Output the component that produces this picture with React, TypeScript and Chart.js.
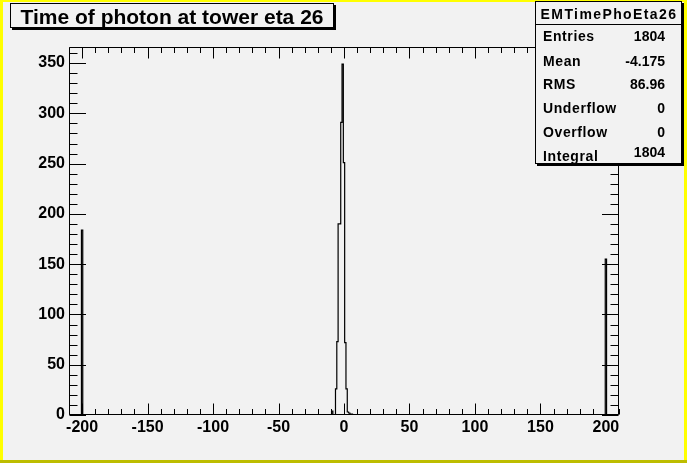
import React, { useEffect, useRef } from 'react';
import { Chart, registerables } from 'chart.js';

Chart.register(...registerables);

// ---- data ----
const chartTitle = 'Time of photon at tower eta 26';
const statsName = 'EMTimePhoEta26';
const statLabels = ['Entries', 'Mean', 'RMS', 'Underflow', 'Overflow', 'Integral'];
const statValues = ['1804', '-4.175', '86.96', '0', '0', '1804'];

const xAxisMin = -210;
const xAxisMax = 210;
const yAxisMax = 366;
const binWidth = 1;
// non-empty bins (bin centre, count)
const binCenters = [-200, -9, -6, -5, -4, -3, -2, -1, 0, 1, 2, 3, 4, 5, 6, 200];
const binCounts = [184, 4, 26, 73, 190, 190, 291, 349, 251, 72, 26, 3, 2, 1, 1, 155];

const xTickLabels = [-200, -150, -100, -50, 0, 50, 100, 150, 200];
const yTickLabels = [0, 50, 100, 150, 200, 250, 300, 350];
const xMinorStep = 10;
const yMinorStep = 10;

const FONT = '"Liberation Sans", Arial, Helvetica, sans-serif';

function buildOutline() {
  const pts: { x: number; y: number }[] = [];
  const first = Math.round(xAxisMin / binWidth);
  const last = Math.round(xAxisMax / binWidth);
  for (let k = first; k <= last; k++) {
    const c = k * binWidth;
    const idx = binCenters.indexOf(c);
    const v = idx >= 0 ? binCounts[idx] : 0;
    pts.push({ x: c - binWidth / 2, y: v });
  }
  pts.push({ x: last * binWidth + binWidth / 2, y: 0 });
  return pts;
}

function drawText(ctx: CanvasRenderingContext2D, text: string, x: number, y: number, align: CanvasTextAlign, font: string, spacing = 0) {
  ctx.font = font;
  ctx.textAlign = align;
  ctx.textBaseline = 'alphabetic';
  const anyCtx = ctx as any;
  if ('letterSpacing' in anyCtx) anyCtx.letterSpacing = spacing + 'px';
  ctx.fillText(text, x, y);
  if ('letterSpacing' in anyCtx) anyCtx.letterSpacing = '0px';
}

const rootStyle = {
  id: 'rootStyle',
  beforeDraw(chart: any) {
    const { ctx, width, height } = chart;
    ctx.save();
    ctx.fillStyle = '#f2f2f2';
    ctx.fillRect(0, 0, width, height);
    // bevelled yellow border
    ctx.fillStyle = '#ffff00';
    ctx.fillRect(0, 0, 3, height);
    ctx.fillRect(0, 0, width, 2);
    ctx.fillRect(width - 3, 0, 3, height);
    ctx.fillStyle = '#bdbd00';
    ctx.fillRect(0, height - 3, width, 3);
    ctx.restore();
  },
  afterDraw(chart: any) {
    const { ctx, chartArea } = chart;
    const { left, right, top, bottom } = chartArea;
    const xs = chart.scales.x;
    const ys = chart.scales.y;
    ctx.save();
    ctx.strokeStyle = '#000';
    ctx.lineWidth = 1;
    const L = Math.round(left) + 0.5, R = Math.round(right) - 0.5;
    const T = Math.round(top) + 0.5, B = Math.round(bottom) - 0.5;
    ctx.beginPath();
    ctx.rect(L, T, R - L, B - T);
    // x ticks (bottom & top)
    const xMajor = 11, xMinor = 5.5;
    for (let v = xAxisMin; v <= xAxisMax + 1e-9; v += xMinorStep) {
      const px = Math.round(xs.getPixelForValue(v)) + 0.5;
      const len = v % 50 === 0 ? xMajor : xMinor;
      ctx.moveTo(px, B); ctx.lineTo(px, B - len);
      ctx.moveTo(px, T); ctx.lineTo(px, T + len);
    }
    const yMajor = 16.5, yMinor = 8;
    for (let v = 0; v <= yAxisMax; v += yMinorStep) {
      const py = Math.round(ys.getPixelForValue(v)) + 0.5;
      const len = v % 50 === 0 ? yMajor : yMinor;
      ctx.moveTo(L, py); ctx.lineTo(L + len, py);
      ctx.moveTo(R, py); ctx.lineTo(R - len, py);
    }
    ctx.stroke();

    ctx.fillStyle = '#000';
    // title box with shadow
    const tb = { x: 10, y: 3, w: 324, h: 25 };
    ctx.fillRect(tb.x + 2, tb.y + 2, tb.w, tb.h);
    ctx.fillStyle = '#f2f2f2';
    ctx.fillRect(tb.x, tb.y, tb.w, tb.h);
    ctx.strokeRect(tb.x + 0.5, tb.y + 0.5, tb.w - 1, tb.h - 1);
    ctx.fillStyle = '#000';
    drawText(ctx, chartTitle, tb.x + tb.w / 2, 23.5, 'center', `bold 21px ${FONT}`);

    // stats box with shadow
    const sb = { x: 535, y: 1, w: 147, h: 163 };
    ctx.fillRect(sb.x + 2, sb.y + 2, sb.w, sb.h);
    ctx.fillStyle = '#f2f2f2';
    ctx.fillRect(sb.x, sb.y, sb.w, sb.h);
    ctx.strokeRect(sb.x + 0.5, sb.y + 0.5, sb.w - 1, sb.h - 1);
    ctx.beginPath();
    ctx.moveTo(sb.x, 24.5); ctx.lineTo(sb.x + sb.w, 24.5);
    ctx.stroke();
    ctx.fillStyle = '#000';
    drawText(ctx, statsName, sb.x + sb.w / 2 + 0.5, 19, 'center', `bold 14px ${FONT}`, 1.4);
    const baselines = [40.7, 65.7, 89.3, 113.3, 137.3, 160.7];
    const valBaselines = [40.7, 65.7, 89.3, 113.3, 137.3, 157.3];
    statLabels.forEach((lab, i) => {
      drawText(ctx, lab, 543, baselines[i], 'left', `bold 14px ${FONT}`, 0.6);
      drawText(ctx, statValues[i], 665, valBaselines[i], 'right', `bold 14px ${FONT}`, 0);
    });
    ctx.restore();
  },
};

export default function App() {
  const ref = useRef<HTMLCanvasElement | null>(null);
  useEffect(() => {
    if (!ref.current) return;
    const chart = new Chart(ref.current, {
      type: 'line',
      data: {
        datasets: [
          {
            label: statsName,
            data: buildOutline(),
            stepped: 'before',
            borderColor: '#000',
            borderWidth: 1.2,
            pointRadius: 0,
            fill: false,
          },
        ],
      },
      options: {
        responsive: false,
        animation: false,
        devicePixelRatio: 1,
        layout: { padding: { top: 47, right: 68, bottom: 0, left: 0 } },
        plugins: { legend: { display: false }, title: { display: false }, tooltip: { enabled: false } },
        scales: {
          x: {
            type: 'linear',
            min: xAxisMin,
            max: xAxisMax,
            grid: { display: false, drawTicks: false },
            border: { display: false },
            afterFit: (s: any) => { s.height = 48; },
            afterBuildTicks: (s: any) => { s.ticks = xTickLabels.map((v) => ({ value: v })); },
            ticks: {
              color: '#000',
              padding: 3,
              maxRotation: 0,
              autoSkip: false,
              font: { family: FONT, weight: 'bold', size: 16 },
            },
          },
          y: {
            type: 'linear',
            min: 0,
            max: yAxisMax,
            grid: { display: false, drawTicks: false },
            border: { display: false },
            afterFit: (s: any) => { s.width = 69; },
            afterBuildTicks: (s: any) => { s.ticks = yTickLabels.map((v) => ({ value: v })); },
            ticks: {
              color: '#000',
              padding: 4,
              autoSkip: false,
              font: { family: FONT, weight: 'bold', size: 16 },
            },
          },
        },
      },
      plugins: [rootStyle],
    } as any);
    return () => chart.destroy();
  }, []);
  return (
    <div style={{ position: 'absolute', left: 0, top: 0, width: 687, height: 463 }}>
      <canvas ref={ref} width={687} height={463} />
    </div>
  );
}
